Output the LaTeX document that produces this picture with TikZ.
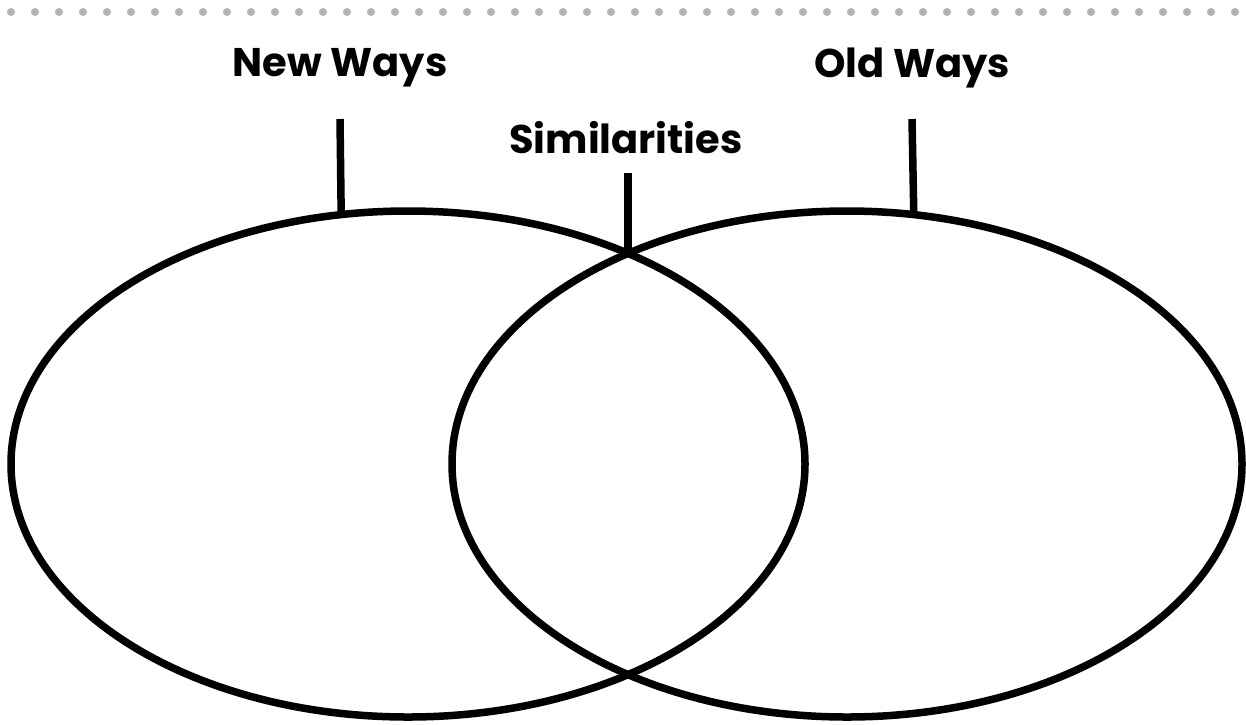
\documentclass[tikz,border=0pt]{standalone}
\usepackage{fontspec}
\setmainfont{Poppins}[UprightFont={* Bold}]
\usetikzlibrary{shapes.geometric}
\begin{document}
\begin{tikzpicture}[x=1pt,y=-1pt,
  ring/.style={draw=black,line width=7.5pt,ellipse,inner sep=0pt,outer sep=0pt},
  leader/.style={draw=black,line width=7.5pt},
  title/.style={font=\fontsize{40}{46}\selectfont,text=black,inner sep=0pt},
  dot/.style={fill=black!30,draw=none}]
\useasboundingbox (0,0) rectangle (1246,724);
\foreach \i in {0,...,51} {
  \fill[dot] ({11+24*\i},12) circle (4);
}
\node[ring,minimum width=794pt,minimum height=506pt] (L) at (408,464) {};
\node[ring,minimum width=790pt,minimum height=506pt] (R) at (847,464) {};
\coordinate (Mtop) at (628,252);
\node[title] (new) at (340,68) {New Ways};
\node[title] (old) at (912,68) {Old Ways};
\node[title] (sim) at (626,138) {Similarities};
\coordinate (newl) at (340,119);
\coordinate (oldl) at (912,119);
\coordinate (siml) at (628,173);
\draw[leader] (newl) -- (L.105);
\draw[leader] (oldl) -- (R.75);
\draw[leader] (siml) -- (Mtop);
\end{tikzpicture}
\end{document}
